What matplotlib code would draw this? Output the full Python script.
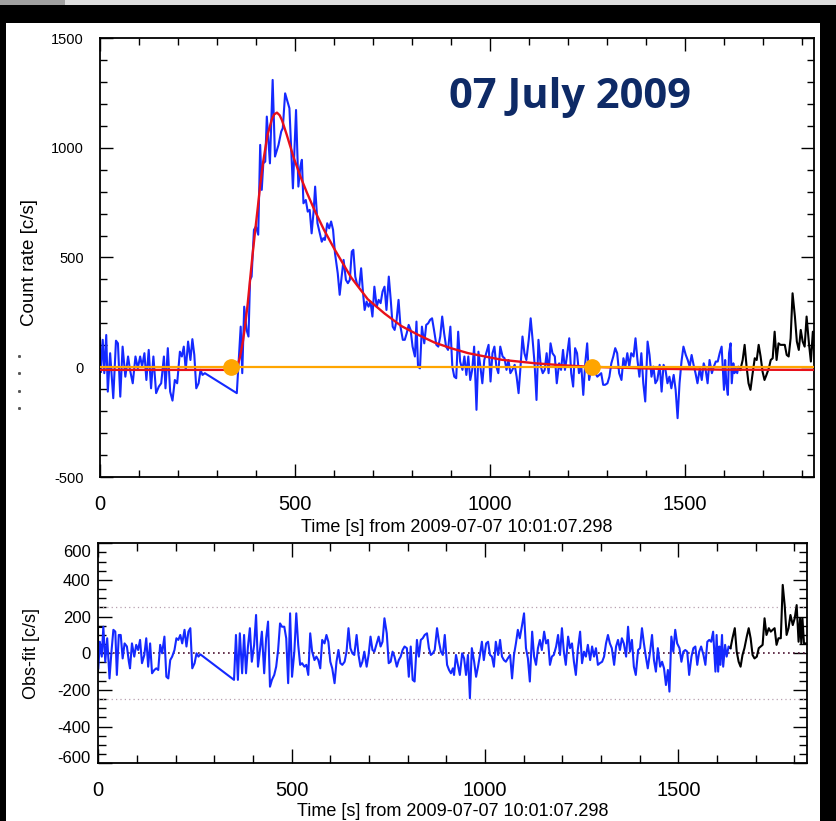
import numpy as np
import matplotlib.pyplot as plt
from matplotlib.patches import Rectangle
from matplotlib.lines import Line2D
from matplotlib.ticker import MultipleLocator
from matplotlib.transforms import ScaledTranslation

plt.rcParams['font.family'] = ['Liberation Sans', 'DejaVu Sans']
plt.rcParams['axes.unicode_minus'] = False

# ---- light curve (time [s], count rate [c/s]) ----
BLACK_START = [(0, 132), (2, -20)]
PRE_FLARE = [
    (2, -20), (7, 125), (11, -27), (16, 147), (20, -111), (26, 64), (34, -141), (41, 121), (46, 109), (52, -134),
    (58, 94), (65, -43), (72, 49), (77, -12), (84, -73), (91, 49), (97, -5), (103, 49), (108, 3), (114, 64),
    (119, -58), (125, 79), (131, -96), (137, 49), (144, -118), (151, -88), (157, -73), (164, 49), (168, -96), (174, 87),
    (180, -111), (186, -152), (192, -58), (198, -73), (205, 71), (210, 49), (215, 94), (220, -12), (226, 117), (232, 33),
    (237, 128), (242, 56), (247, -96), (253, -73), (258, -12), (263, -35), (269, -27),
]
FLARE = [
    (351, -118), (361, 185), (365, -27), (370, 276), (376, 170), (381, 140), (385, 398), (389, 413), (395, 626), (400, 641),
    (406, 604), (411, 1013), (415, 808), (419, 929), (424, 937), (428, 1142), (432, 1036), (436, 929), (443, 1309), (449, 960),
    (458, 1013), (465, 1074), (469, 1089), (475, 1248), (481, 1210), (486, 1180), (495, 815), (503, 1172), (509, 823), (514, 914),
    (518, 945), (522, 747), (528, 762), (533, 709), (538, 717), (543, 610), (548, 709), (552, 823), (558, 656), (564, 610),
    (569, 572), (573, 588), (577, 580), (583, 656), (588, 633), (593, 664), (598, 626), (603, 519), (610, 428), (615, 330),
    (620, 413), (625, 489), (631, 398), (636, 383), (641, 398), (646, 527), (650, 535), (655, 413), (660, 375), (665, 367),
    (670, 451), (675, 337), (679, 261), (684, 299), (689, 276), (694, 299), (699, 231), (704, 367), (710, 276), (715, 307),
    (720, 292), (725, 345), (730, 367), (735, 261), (741, 413), (746, 307), (751, 185), (756, 170), (761, 216), (766, 307),
    (771, 185), (777, 125), (782, 125), (787, 155), (792, 193), (797, 170), (802, 94), (808, 49), (812, 208), (816, 3),
    (821, -5), (826, 185), (832, 109), (837, 193), (842, 200), (847, 216), (852, 223), (857, 170), (863, 102), (868, 94),
    (873, 140), (878, 231), (883, 155), (888, 94), (893, 79), (899, 185), (904, 3), (909, -43), (914, -50), (919, 162),
    (924, 26), (930, -12), (935, 49), (940, -35), (945, 49), (950, -58), (955, -12), (960, 94), (966, -194), (971, 71),
    (976, 3), (981, -73), (986, 33), (991, 64), (997, 102), (1002, -65), (1007, 64), (1012, 94), (1017, 3), (1022, -27),
    (1027, 94), (1033, 49), (1038, 41), (1043, -12), (1048, 33), (1053, -27), (1058, -12), (1064, 11), (1069, -43), (1074, -118),
    (1079, 3), (1084, 140), (1089, 64), (1094, 33), (1100, 125), (1105, 223), (1110, 125), (1115, 18), (1120, -149), (1125, 125),
    (1131, 3), (1136, -27), (1141, -12), (1146, 64), (1151, -27), (1156, 109), (1161, 64), (1167, 49), (1172, -73),
]
TAIL = [
    (1178, 18), (1183, -12), (1188, 79), (1193, -12), (1198, 49), (1204, 132), (1209, -27), (1214, -88), (1219, 87), (1224, 64),
    (1229, -27), (1235, 3), (1240, -126), (1245, 18), (1250, 109), (1255, -58), (1260, -12), (1266, 3), (1271, -27), (1276, -43),
    (1281, -35), (1286, -27), (1291, -80), (1296, -80), (1302, -73), (1307, -43), (1312, 18), (1317, 49), (1322, 87), (1327, 64),
    (1332, -27), (1338, -58), (1343, 41), (1348, 3), (1353, 64), (1358, 3), (1363, 64), (1369, 49), (1374, 132), (1379, 33),
    (1384, -43), (1389, 64), (1394, -73), (1399, -156), (1405, 117), (1410, 56), (1415, -43), (1420, 3), (1425, -73), (1430, -58),
    (1436, 11), (1441, -111), (1446, 11), (1451, -12), (1456, -73), (1461, -43), (1466, -96), (1472, -35), (1477, -103), (1482, -232),
    (1487, -73), (1492, 26), (1497, 94), (1503, 56), (1508, 33), (1513, 3), (1518, 56), (1523, 11), (1528, -27), (1533, -73),
    (1539, -5), (1544, -58), (1549, 18), (1554, -12), (1559, -73), (1564, 33), (1570, -27), (1575, 3), (1580, 26), (1585, 26),
    (1590, 64), (1595, 94), (1601, -103), (1604, 33), (1607, -73), (1611, -126), (1614, 64), (1618, 109), (1621, -73), (1625, 18),
    (1628, -27), (1631, -5), (1635, -27), (1638, 3), (1643, -12),
]
BLACK_END = [
    (1643, -12), (1649, 33), (1654, 102), (1659, 3), (1664, -73), (1669, -103), (1674, -35), (1680, 41), (1685, 33), (1690, 102),
    (1695, 49), (1700, -20), (1705, -58), (1710, -35), (1716, -5), (1721, 33), (1726, 41), (1731, 162), (1736, 33), (1741, 109),
    (1746, 102), (1752, 102), (1757, 102), (1762, 56), (1767, 49), (1772, 132), (1777, 337), (1783, 231), (1788, 117), (1793, 79),
    (1798, 170), (1803, 117), (1808, 94), (1813, 231), (1819, 109), (1824, 26), (1829, 162), (1834, 18), (1838, 162),
]
FIT = [
    (0, -12), (345, -12), (352, 0), (359, 45), (366, 110), (372, 185), (379, 290), (385, 398), (391, 505), (398, 620),
    (405, 730), (411, 830), (419, 940), (430, 1060), (441, 1130), (447, 1152), (454, 1160), (461, 1148), (467, 1125), (479, 1060),
    (497, 955), (514, 870), (531, 795), (550, 717), (575, 625), (601, 540), (644, 410), (687, 310), (730, 245), (773, 188),
    (816, 148), (859, 112), (902, 86), (945, 64), (1031, 34), (1117, 18), (1186, 9), (1260, 2), (1430, -7), (1600, -11),
    (1840, -12),
]
INTERVAL_T = [336, 1262]   # orange markers (start / end of fitted interval)

# ---- residuals obs - fit [c/s] ----
RES_BLACK_START = [(0, -100), (0, 145), (12, 145)]
RES_PRE = [
    (0, -82), (4, 63), (9, -18), (13, 145), (18, -46), (23, 82), (29, -137), (34, 9), (39, 128), (44, 118),
    (48, -118), (53, 100), (58, 100), (63, -28), (68, 54), (74, 37), (79, -46), (82, -82), (87, 54), (93, -18),
    (98, 46), (103, 18), (108, 73), (113, -54), (119, -9), (124, 82), (129, -73), (134, 54), (139, -109), (145, -91),
    (150, -82), (155, -91), (160, 46), (165, 0), (171, 91), (176, -128), (181, -137), (186, -37), (191, -18), (197, 18),
    (202, 82), (207, 73), (212, 100), (217, 54), (223, 128), (228, 37), (233, 118), (238, 137), (243, -82), (249, -54),
    (254, 0), (259, -18), (264, -6),
]
RES_FLARE = [
    (351, -145), (356, 100), (361, -145), (366, 109), (372, -109), (377, 100), (382, -109), (387, 37), (392, 137), (397, -46),
    (403, 46), (408, 209), (413, -73), (418, 18), (423, 118), (429, -109), (434, 82), (439, 173), (444, -182), (449, -145),
    (455, -118), (460, -73), (465, 18), (470, 163), (475, 145), (481, 145), (486, 82), (491, -163), (496, 218), (501, -128),
    (507, 9), (512, 218), (517, 46), (522, -63), (527, -54), (533, -73), (538, -63), (543, -118), (548, 109), (553, 9),
    (559, -37), (564, -18), (569, -37), (574, -82), (579, 73), (585, 54), (590, 100), (595, 63), (600, -46), (605, -82),
    (611, -163), (616, -46), (621, 18), (626, -54), (631, -63), (637, -46), (642, 9), (647, 137), (652, 28), (657, 0),
    (662, -9), (668, 100), (673, -9), (678, -73), (683, -46), (688, 9), (694, -73), (699, -9), (704, 91), (709, 18),
    (714, 9), (720, 54), (725, 91), (730, 37), (735, 63), (740, 191), (746, 109), (751, -54), (756, -46), (761, 9),
    (766, -18), (772, -73), (777, -37), (782, -18), (787, 18), (792, 37), (798, 28), (803, -128), (808, 37), (813, -145),
    (818, -154), (824, 73), (829, -18), (834, 73), (839, 82), (844, 100), (850, 109), (855, 28), (860, -9), (865, 0),
    (870, 18), (876, 137), (881, 63), (886, 9), (891, -9), (896, 100), (902, -63), (907, -91), (912, -109), (917, -82),
]
RES_TAIL = [
    (920, -118), (925, -9), (930, -63), (935, -118), (941, 0), (946, -28), (951, -118), (956, -9), (961, -245), (966, 28),
    (972, -46), (977, -128), (982, -73), (987, -9), (992, 63), (997, -37), (1003, 54), (1008, 63), (1013, -9), (1018, -18),
    (1023, -73), (1028, 63), (1034, -9), (1039, 73), (1044, -18), (1049, -37), (1054, -46), (1059, -28), (1065, -9), (1070, -137),
    (1075, -9), (1080, 54), (1085, 128), (1090, 82), (1096, 154), (1101, 218), (1106, 28), (1111, -28), (1116, -154), (1122, 118),
    (1127, -18), (1132, -63), (1137, 28), (1142, 73), (1147, 18), (1153, 118), (1158, 54), (1163, 73), (1168, -63), (1173, -18),
    (1178, -9), (1184, 37), (1189, 100), (1194, -9), (1199, 137), (1204, 9), (1209, -63), (1215, 91), (1220, 28), (1225, 54),
    (1230, -46), (1235, -118), (1240, 18), (1246, 118), (1251, -54), (1256, 9), (1261, -18), (1266, 46), (1272, -37), (1277, 37),
    (1282, -18), (1287, 28), (1292, -63), (1297, -54), (1303, -46), (1308, -18), (1313, 54), (1318, 100), (1323, 54), (1328, 28),
    (1334, -63), (1339, 37), (1344, 73), (1349, 18), (1354, 82), (1359, 54), (1365, -18), (1370, 145), (1375, 9), (1380, 73),
    (1385, -73), (1390, -118), (1396, 18), (1401, 28), (1406, 137), (1411, 54), (1416, -18), (1421, -82), (1427, 9), (1432, 100),
    (1437, -37), (1442, -100), (1447, 28), (1453, -73), (1458, -46), (1463, -82), (1468, -173), (1473, -91), (1477, -209), (1482, 91),
    (1487, 9), (1492, 128), (1497, 54), (1503, 28), (1508, -46), (1513, 9), (1518, 18), (1523, 9), (1528, -118), (1534, -18),
    (1539, 28), (1544, 37), (1549, -63), (1554, 9), (1559, 37), (1565, -9), (1570, -63), (1575, 63), (1580, 73), (1585, 63),
    (1590, 118), (1596, -100), (1599, 100), (1603, -100), (1606, 37), (1609, -63), (1613, 100), (1616, -73), (1621, 46), (1625, -18),
    (1630, 37), (1635, 28),
]
RES_BLACK_END = [
    (1635, 28), (1640, 82), (1646, 137), (1651, 9), (1656, -46), (1661, -73), (1666, -9), (1671, 28), (1677, 91), (1682, 137),
    (1687, 82), (1692, -9), (1697, -28), (1703, -18), (1708, 28), (1713, 37), (1718, 46), (1723, 191), (1728, 100), (1734, 137),
    (1739, 118), (1744, 128), (1749, 137), (1754, 46), (1759, 82), (1765, 82), (1770, 373), (1775, 263), (1780, 100), (1785, 137),
    (1790, 209), (1796, 154), (1801, 191), (1806, 263), (1811, 63), (1815, 191), (1818, 54), (1821, 191), (1825, 54), (1832, 54),
]
SIGMA_BAND = 250
XLABEL = 'Time [s] from 2009-07-07 10:01:07.298'

W, H = 836, 821
BLUE, RED, ORANGE = '#1429ff', '#e8101a', '#ffa500'


def fx(px):
    return px / W


def fy(py):
    return 1 - py / H


def xy(pairs):
    a = np.array(pairs, dtype=float)
    return a[:, 0], a[:, 1]


fig = plt.figure(figsize=(W / 100, H / 100), dpi=100, facecolor='black')

# screenshot frame: white page on black, grey strip on top
frame = [
    Rectangle((fx(6), 0), fx(820) - fx(6), fy(23), facecolor='white'),
    Rectangle((0, fy(5)), 1, 5 / H, facecolor='#dedede'),
    Rectangle((0, fy(5)), 65 / W, 5 / H, facecolor='#a0a0a0'),
]
for p in frame:
    p.set_transform(fig.transFigure)
    p.set_edgecolor('none')
    p.set_zorder(-10)
    fig.patches.append(p)
fig.add_artist(Line2D([fx(19)] * 4, [fy(356), fy(373), fy(391), fy(408)], ls='none',
                      marker='s', ms=1.1, color='#555555', transform=fig.transFigure))

ax1 = fig.add_axes([fx(100), fy(477), (814 - 100) / W, (477 - 38) / H])
ax2 = fig.add_axes([fx(98.3), fy(763.3), (806.7 - 98.3) / W, (763.3 - 543.3) / H])

# --- top: light curve with fit ---
ax1.plot(*xy(BLACK_START), color='black', lw=1.5)
ax1.plot(*xy(PRE_FLARE + FLARE + TAIL), color=BLUE, lw=1.5)
ax1.plot(*xy(BLACK_END), color='black', lw=1.5)
ax1.plot(*xy(FIT), color=RED, lw=1.7, zorder=3)
ax1.axhline(0, color=ORANGE, lw=1.6, zorder=3)
ax1.plot(INTERVAL_T, [0] * len(INTERVAL_T), ls='none', marker='o', ms=11, color=ORANGE, zorder=4)
ax1.set_xlim(0, 1832)
ax1.set_ylim(-500, 1500)
ax1.yaxis.set_major_locator(MultipleLocator(500))
ax1.yaxis.set_minor_locator(MultipleLocator(100))

# --- bottom: residuals ---
ax2.axhline(0, color='#4a1030', ls=(0, (1, 2)), lw=1.2)
for lvl in (SIGMA_BAND, -SIGMA_BAND):
    ax2.axhline(lvl, color='#b8a0b0', ls=(0, (1, 2.5)), lw=0.9)
ax2.plot(*xy(RES_BLACK_START), color='black', lw=1.5)
ax2.plot(*xy(RES_PRE + RES_FLARE + RES_TAIL), color=BLUE, lw=1.5)
ax2.plot(*xy(RES_BLACK_END), color='black', lw=1.5)
ax2.set_xlim(0, 1832)
ax2.set_ylim(-600, 600)
ax2.set_yticks(np.arange(-600, 601, 200))
ax2.yaxis.set_minor_locator(MultipleLocator(50))

for ax in (ax1, ax2):
    ax.xaxis.set_major_locator(MultipleLocator(500))
    ax.xaxis.set_minor_locator(MultipleLocator(100))
    ax.tick_params(which='both', direction='in', top=True, right=True, width=1.0)
    ax.tick_params(axis='x', labelsize=14.5, pad=13)
    for s in ax.spines.values():
        s.set_linewidth(1.3)
ax1.tick_params(which='major', length=9.5)
ax1.tick_params(which='minor', length=4.7)
ax1.tick_params(axis='y', labelsize=10.5, pad=11.5)
ax2.tick_params(which='major', length=10)
ax2.tick_params(which='minor', length=5.5)
ax2.tick_params(axis='y', labelsize=12, pad=5.5)

# the outer residual labels sit a little inside the frame
yt = ax2.yaxis.get_major_ticks()
yt[0].label1.set_transform(yt[0].label1.get_transform() + ScaledTranslation(0, 6 / 100, fig.dpi_scale_trans))
yt[-1].label1.set_transform(yt[-1].label1.get_transform() + ScaledTranslation(0, -8 / 100, fig.dpi_scale_trans))

fig.text(fx(457), fy(528), XLABEL, ha='center', va='center', fontsize=13)
fig.text(fx(452.5), fy(811), XLABEL, ha='center', va='center', fontsize=13)
fig.text(fx(29.5), fy(262), 'Count rate [c/s]', rotation=90, ha='center', va='center', fontsize=13.5)
fig.text(fx(32), fy(653), 'Obs-fit [c/s]', rotation=90, ha='center', va='center', fontsize=13)
fig.text(fx(449), fy(108), '07 July 2009', ha='left', va='baseline', fontsize=30,
         fontweight='bold', family=['Open Sans', 'DejaVu Sans'], color='#0e2a66')

fig.savefig('out.png', dpi=100, facecolor=fig.get_facecolor())
